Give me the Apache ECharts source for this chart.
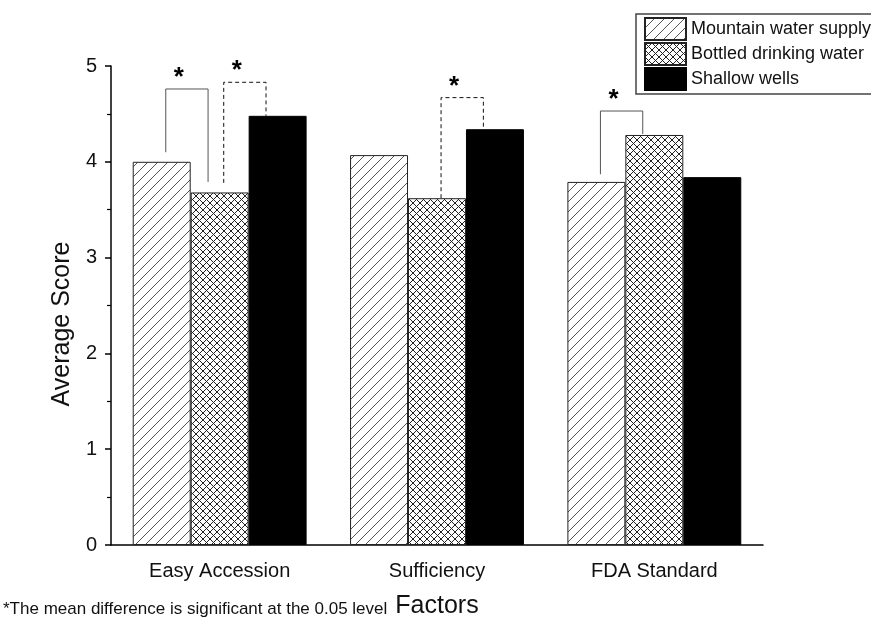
<!DOCTYPE html>
<html><head><meta charset="utf-8">
<script src="https://cdn.jsdelivr.net/npm/echarts@6/dist/echarts.min.js"></script>
<style>html,body{margin:0;padding:0;background:#fff}#c{width:871px;height:625px}</style>
</head><body><div id="c"></div>
<script>
// ---- data ----
var categories = ['Easy Accession', 'Sufficiency', 'FDA Standard'];
var seriesNames = ['Mountain water supply', 'Bottled drinking water', 'Shallow wells'];
var mountain = [4.00, 4.07, 3.79];
var bottled  = [3.68, 3.62, 4.28];
var shallow  = [4.48, 4.34, 3.84];
var yTicks = [0, 1, 2, 3, 4, 5];
// significance brackets: [category index, bar A, bar B, top value, leg A bottom, leg B bottom, dashed(1/0)]
var sigBrackets = [
  [0, 0, 1, 4.76, 4.10, 3.79, 0],
  [0, 1, 2, 4.83, 3.78, 4.48, 1],
  [1, 1, 2, 4.67, 3.62, 4.34, 1],
  [2, 0, 1, 4.53, 3.87, 4.29, 0]
];
var yTitle = 'Average Score';
var xTitle = 'Factors';
var footnote = '*The mean difference is significant at the 0.05 level';

// ---- patterns ----
function hatchPattern() {
  var s = 10, c = document.createElement('canvas');
  c.width = s; c.height = s;
  var g = c.getContext('2d');
  g.fillStyle = '#fff'; g.fillRect(0, 0, s, s);
  g.strokeStyle = '#555'; g.lineWidth = 1;
  g.beginPath();
  g.moveTo(-1, s + 1); g.lineTo(s + 1, -1);
  g.moveTo(-1, 1); g.lineTo(1, -1);
  g.moveTo(s - 1, s + 1); g.lineTo(s + 1, s - 1);
  g.stroke();
  return c;
}
function crossPattern() {
  var s = 7, c = document.createElement('canvas');
  c.width = s; c.height = s;
  var g = c.getContext('2d');
  g.fillStyle = '#fff'; g.fillRect(0, 0, s, s);
  g.strokeStyle = '#222'; g.lineWidth = 1;
  g.beginPath();
  g.moveTo(-1, s + 1); g.lineTo(s + 1, -1);
  g.moveTo(-1, -1); g.lineTo(s + 1, s + 1);
  g.stroke();
  return c;
}

var chart = echarts.init(document.getElementById('c'));
var font = 'Liberation Sans, Arial, sans-serif';
var barGapRatio = 0.2;

function bracketItem(params, api) {
  var cat = api.value(0), a = api.value(1), b = api.value(2);
  var top = api.value(3), la = api.value(4), lb = api.value(5), dashed = api.value(6);
  var band = api.size([1, 0])[0];
  var bw = band * (1 - barGapRatio) / 3;
  var cx = api.coord([cat, 0])[0];
  var xa = cx + (a - 1) * bw + 0.07 * bw;
  var xb = cx + (b - 1) * bw - 0.2 * bw;
  var yTop = api.coord([cat, top])[1];
  var ya = api.coord([cat, la])[1];
  var yb = api.coord([cat, lb])[1];
  var style = dashed ? {stroke: '#111', lineWidth: 1, lineDash: [4, 3], fill: null}
                     : {stroke: '#555', lineWidth: 1, fill: null};
  return {
    type: 'group',
    children: [
      {type: 'polyline', shape: {points: [[xa, ya], [xa, yTop], [xb, yTop], [xb, yb]]}, style: style},
      {type: 'text', style: {text: '*', x: xa + 13, y: yTop - 24, textAlign: 'center', textVerticalAlign: 'top',
        font: 'bold 26px ' + font, fill: '#000'}}
    ]
  };
}

var option = {
  animation: false,
  backgroundColor: '#fff',
  grid: {left: 111, right: 108, top: 66, bottom: 80},
  legend: {
    orient: 'vertical', left: 636, top: 14,
    data: seriesNames,
    icon: 'rect',
    itemWidth: 41, itemHeight: 22, itemGap: 1,
    padding: [3, 1, 3, 8],
    borderColor: '#444', borderWidth: 1.5,
    textStyle: {fontFamily: font, fontSize: 18, color: '#111'},
    selectedMode: false
  },
  xAxis: [{
    type: 'category', data: categories,
    axisLine: {lineStyle: {color: '#000', width: 1.5}},
    axisTick: {alignWithLabel: true, length: 10, lineStyle: {color: '#000', width: 1.5}},
    axisLabel: {color: '#111', fontFamily: font, fontSize: 20, margin: 16},
    name: xTitle, nameLocation: 'middle', nameGap: 49,
    nameTextStyle: {fontFamily: font, fontSize: 25, color: '#111'}
  }, {
    type: 'category', data: categories, position: 'bottom',
    axisLine: {show: false},
    axisTick: {length: 6, lineStyle: {color: '#000', width: 1.5}},
    axisLabel: {show: false}
  }],
  yAxis: {
    type: 'value', min: 0, max: 5, interval: 1,
    axisLine: {show: true, lineStyle: {color: '#000', width: 1.5}},
    axisTick: {show: true, length: 6, lineStyle: {color: '#000', width: 1.5}},
    minorTick: {show: true, splitNumber: 2, length: 4, lineStyle: {color: '#000', width: 1.2}},
    splitLine: {show: false},
    axisLabel: {color: '#111', fontFamily: font, fontSize: 20, margin: 14,
      formatter: function (v) { return yTicks.indexOf(v) >= 0 ? String(v) : ''; }}
  },
  series: [
    {name: seriesNames[0], type: 'bar', data: mountain, barGap: '0%', barCategoryGap: '20%',
      itemStyle: {color: {image: hatchPattern(), repeat: 'repeat'}, borderColor: '#222', borderWidth: 1}},
    {name: seriesNames[1], type: 'bar', data: bottled,
      itemStyle: {color: {image: crossPattern(), repeat: 'repeat'}, borderColor: '#222', borderWidth: 1}},
    {name: seriesNames[2], type: 'bar', data: shallow,
      itemStyle: {color: '#000', borderColor: '#000', borderWidth: 1}},
    {type: 'custom', coordinateSystem: 'cartesian2d', renderItem: bracketItem,
      data: sigBrackets, encode: {x: 0, y: 3}, silent: true, z: 5}
  ],
  graphic: [{
    type: 'text', x: 62, y: 324, rotation: Math.PI / 2,
    style: {text: yTitle, font: '25px ' + font, fill: '#111', textAlign: 'center', textVerticalAlign: 'middle'}
  }, {
    type: 'text', left: 3, top: 601,
    style: {text: footnote, font: '17px Liberation Sans Narrow, Arial Narrow, sans-serif', fill: '#111'}
  }]
};
chart.setOption(option);
</script>
</body></html>
